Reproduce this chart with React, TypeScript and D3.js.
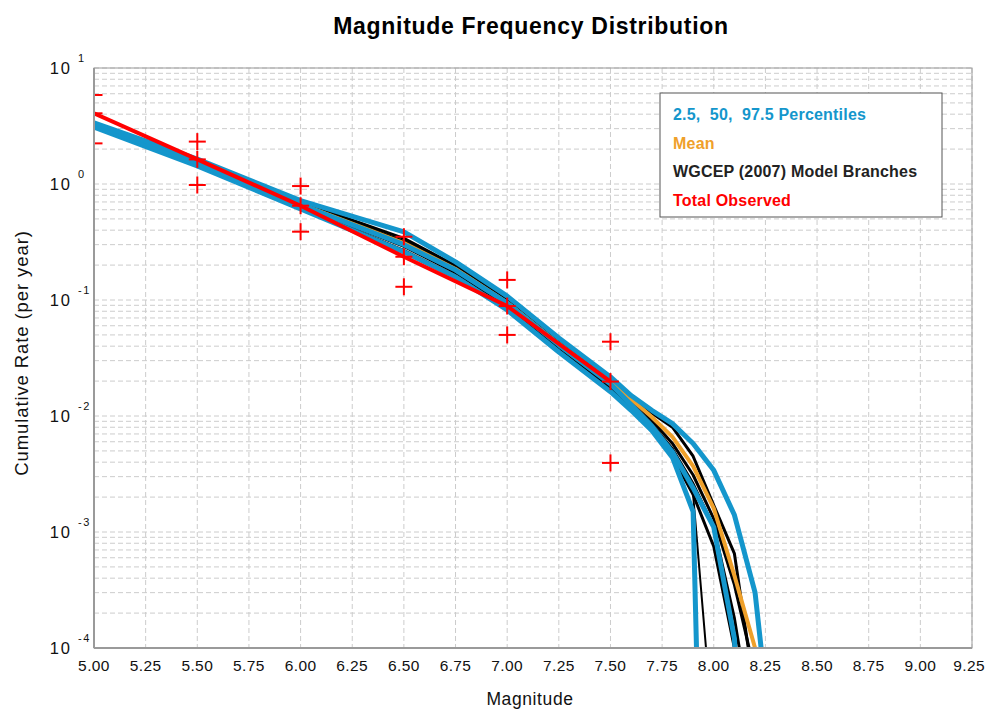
import React from 'react';
import * as d3 from 'd3';

// ---- data ----
const magnitudes = [5.0, 5.5, 6.0, 6.5, 6.75, 7.0, 7.25, 7.5, 7.6, 7.7, 7.8, 7.9, 8.0, 8.1, 8.2, 8.3];

const percentile975 = [3.36, 1.64, 0.72, 0.386, 0.213, 0.108, 0.047, 0.0217, 0.0150, 0.0112, 0.0086, 0.0058, 0.0034, 0.0014, 0.0003, 0.000007];
const percentile50 = [3.2, 1.52, 0.66, 0.30, 0.181, 0.094, 0.041, 0.0189, 0.0125, 0.0082, 0.0049, 0.0024, 0.0011, 0.00012, 1e-7, 1e-9];
const percentile25 = [3.1, 1.43, 0.61, 0.26, 0.158, 0.082, 0.0356, 0.0162, 0.0112, 0.0075, 0.0044, 0.0015, 1e-10, 1e-12, 1e-12, 1e-12];
const meanRate = [3.2, 1.53, 0.67, 0.31, 0.185, 0.095, 0.042, 0.0195, 0.0140, 0.0098, 0.0066, 0.0037, 0.0016, 0.00042, 0.0001, 0.000015];

const branch1 = [3.15, 1.47, 0.63, 0.27, 0.162, 0.086, 0.037, 0.0168, 0.0118, 0.0078, 0.0046, 0.0021, 0.000016, 1e-8, 1e-10, 1e-12];
const branch2 = [3.2, 1.5, 0.65, 0.29, 0.172, 0.09, 0.039, 0.0175, 0.0120, 0.0080, 0.0045, 0.0021, 0.00075, 0.0001, 0.000005, 1e-8];
const branch3 = [3.3, 1.6, 0.70, 0.34, 0.198, 0.102, 0.044, 0.0205, 0.0148, 0.0106, 0.0080, 0.0045, 0.0017, 0.00065, 0.00004, 0.000001];
const branch4 = [3.25, 1.55, 0.68, 0.32, 0.19, 0.097, 0.042, 0.0198, 0.0140, 0.0092, 0.0058, 0.0031, 0.0013, 0.00035, 0.00006, 0.000005];
const branch5 = [3.18, 1.52, 0.66, 0.30, 0.18, 0.093, 0.040, 0.0185, 0.0128, 0.0085, 0.0052, 0.0026, 0.0011, 0.00018, 0.000015, 1e-7];

const obsMags = [5.0, 5.5, 6.0, 6.5, 7.0, 7.5];
const obsRate = [4.07, 1.63, 0.65, 0.236, 0.0887, 0.0198];
const obsUpper = [5.85, 2.32, 0.96, 0.351, 0.149, 0.0437];
const obsLower = [2.24, 0.98, 0.388, 0.13, 0.05, 0.00394];

const xTickValues = [5.0, 5.25, 5.5, 5.75, 6.0, 6.25, 6.5, 6.75, 7.0, 7.25, 7.5, 7.75, 8.0, 8.25, 8.5, 8.75, 9.0, 9.25];
const yDecades = [1, 0, -1, -2, -3, -4];

const legendLabels = ['2.5,\u00a0\u00a050,\u00a0\u00a097.5 Percentiles', 'Mean', 'WGCEP (2007) Model Branches', 'Total Observed'];

// ---- style ----
const W = 987, H = 709;
const M = { left: 94, right: 15, top: 68, bottom: 61 };
const BLUE = '#1496cc';
const ORANGE = '#efa02a';
const RED = '#ff0000';
const FONT = '"Liberation Sans", Arial, Helvetica, sans-serif';

export default function App() {
  const x = d3.scaleLinear().domain([5.0, 9.25]).range([M.left, W - M.right]);
  const y = d3.scaleLog().domain([1e-4, 10]).range([H - M.bottom, M.top]);

  const line = d3.line<[number, number]>()
    .x((d) => x(d[0]))
    .y((d) => y(d[1]));
  const series = (vals: number[]) => line(magnitudes.map((m, i) => [m, vals[i]] as [number, number])) || '';

  const minorY: number[] = [];
  for (let e = -4; e < 1; e++) for (let k = 1; k <= 9; k++) minorY.push(k * Math.pow(10, e));
  minorY.push(10);

  const plotW = W - M.left - M.right;
  const plotH = H - M.top - M.bottom;
  const cross = 8.5;

  const branches = [branch1, branch2, branch3, branch4, branch5];
  const branchWidths = [2, 3, 3, 3, 3];

  return (
    <svg width={W} height={H} style={{ position: 'absolute', left: 0, top: 0, background: '#fff' }} fontFamily={FONT}>
      <defs>
        <clipPath id="plotclip">
          <rect x={M.left} y={M.top} width={plotW} height={plotH} />
        </clipPath>
      </defs>
      <rect x={0} y={0} width={W} height={H} fill="#fff" />

      {/* grid */}
      <g stroke="#cccccc" strokeWidth={1} strokeDasharray="5,3">
        {minorY.map((v, i) => (
          <line key={'h' + i} x1={M.left} x2={W - M.right} y1={y(v)} y2={y(v)} />
        ))}
        {xTickValues.map((v, i) => (
          <line key={'v' + i} x1={x(v)} x2={x(v)} y1={M.top} y2={H - M.bottom} />
        ))}
      </g>

      {/* data */}
      <g clipPath="url(#plotclip)" fill="none" strokeLinejoin="round">
        {branches.map((b, i) => (
          <path key={'b' + i} d={series(b)} stroke="#000" strokeWidth={branchWidths[i]} />
        ))}
        <path d={series(meanRate)} stroke={ORANGE} strokeWidth={4} />
        <path d={series(percentile25)} stroke={BLUE} strokeWidth={5} />
        <path d={series(percentile50)} stroke={BLUE} strokeWidth={5} />
        <path d={series(percentile975)} stroke={BLUE} strokeWidth={5} />
        <path
          d={line(obsMags.map((m, i) => [m, obsRate[i]] as [number, number])) || ''}
          stroke={RED}
          strokeWidth={4}
        />
        <g stroke={RED} strokeWidth={2}>
          {obsMags.map((m, i) =>
            [obsUpper[i], obsRate[i], obsLower[i]].map((v, j) => (
              <g key={'c' + i + '-' + j}>
                <line x1={x(m) - cross} x2={x(m) + cross} y1={y(v)} y2={y(v)} />
                <line x1={x(m)} x2={x(m)} y1={y(v) - cross} y2={y(v) + cross} />
              </g>
            ))
          )}
        </g>
      </g>

      {/* frame */}
      <rect x={M.left} y={M.top} width={plotW} height={plotH} fill="none" stroke="#9a9a9a" strokeWidth={1} />
      <line x1={M.left} x2={M.left} y1={M.top} y2={H - M.bottom} stroke="#9a9a9a" strokeWidth={2} />
      <line x1={M.left} x2={W - M.right} y1={H - M.bottom} y2={H - M.bottom} stroke="#9a9a9a" strokeWidth={2} />

      {/* x tick labels */}
      <g fontSize={15.5} fill="#111" letterSpacing={0.4}>
        {xTickValues.map((v, i) => {
          const last = i === xTickValues.length - 1;
          return (
            <text key={'xt' + i} x={last ? W - 2 : x(v)} y={671} textAnchor={last ? 'end' : 'middle'}>
              {v.toFixed(2)}
            </text>
          );
        })}
      </g>

      {/* y tick labels */}
      <g fill="#111">
        {yDecades.map((e) => (
          <g key={'yt' + e}>
            <text x={72} y={y(Math.pow(10, e)) + 6} fontSize={16.5} textAnchor="end" letterSpacing={2}>10</text>
            <text x={78} y={y(Math.pow(10, e)) - 6} fontSize={11} textAnchor="start" letterSpacing={1.5}>
              {e < 0 ? '-' + Math.abs(e) : String(e)}
            </text>
          </g>
        ))}
      </g>

      {/* titles */}
      <text x={531} y={34} textAnchor="middle" fontSize={23} fontWeight="bold" fill="#000" letterSpacing={0.7}>
        Magnitude Frequency Distribution
      </text>
      <text x={530} y={705} textAnchor="middle" fontSize={17.5} fill="#111" letterSpacing={0.6}>Magnitude</text>
      <text
        transform={`translate(28, ${(M.top + H - M.bottom) / 2 - 5}) rotate(-90)`}
        textAnchor="middle"
        fontSize={18.5}
        fill="#111"
        letterSpacing={0.9}
      >
        Cumulative Rate (per year)
      </text>

      {/* legend */}
      <rect x={660} y={93} width={282} height={124} fill="#fff" stroke="#555" strokeWidth={1} />
      <g fontSize={16} fontWeight="bold" letterSpacing={0.2}>
        {legendLabels.map((t, i) => (
          <text key={'lg' + i} x={673} y={120 + i * 28.5} fill={[BLUE, ORANGE, '#222', RED][i]}>{t}</text>
        ))}
      </g>
    </svg>
  );
}
